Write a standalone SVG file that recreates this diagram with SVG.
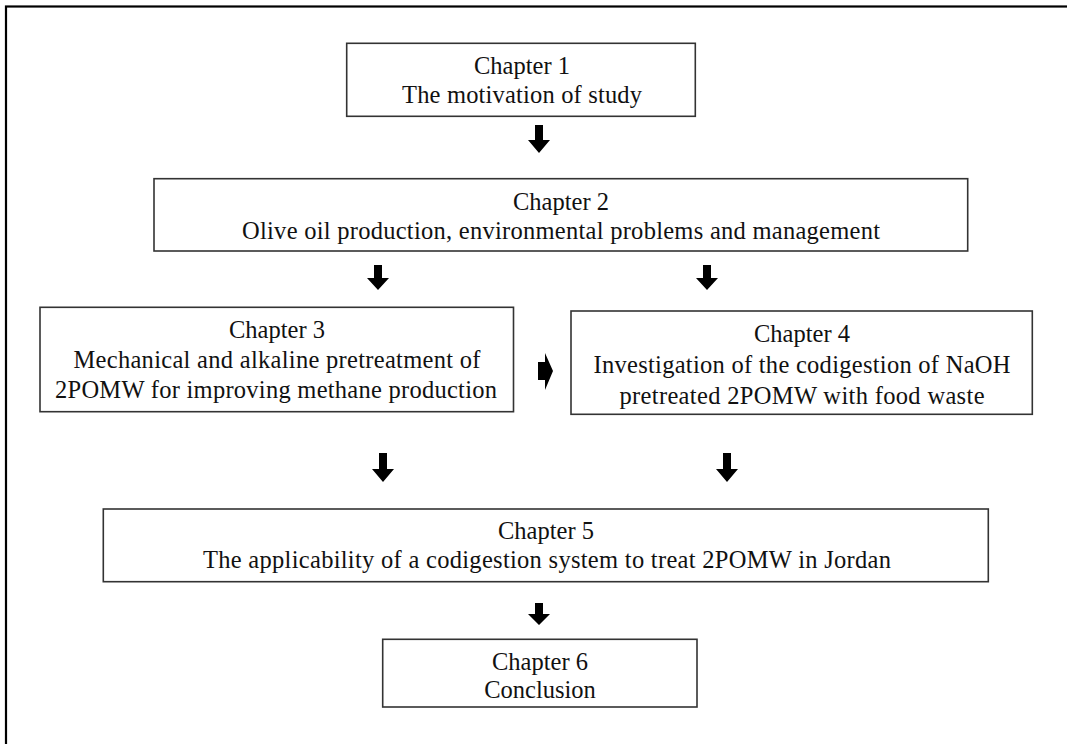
<svg xmlns="http://www.w3.org/2000/svg" width="1067" height="744" viewBox="0 0 1067 744">
<style>
.bx{fill:#fff;stroke:#333;stroke-width:1.6}
.t{font-family:"Liberation Serif","Times New Roman",serif;font-size:24.5px;fill:#111;text-anchor:middle}
.ar{fill:#000;stroke:none}
</style>
<rect x="0" y="0" width="1067" height="744" fill="#fff"/>
<rect x="6" y="6.5" width="1070" height="750" fill="none" stroke="#000" stroke-width="2.2"/>
<g id="connectors">
<path class="ar" d="M535,125 H543 V140 H550 L539,153 L528,140 H535 Z"/>
<path class="ar" d="M374,265 H382 V278 H389 L378,290 L367,278 H374 Z"/>
<path class="ar" d="M703,265 H711 V278 H718 L707,290 L696,278 H703 Z"/>
<path class="ar" d="M379,453 H387 V469 H394 L383,482 L372,469 H379 Z"/>
<path class="ar" d="M723,453 H731 V469 H738 L727,482 L716,469 H723 Z"/>
<path class="ar" d="M535,603 H543 V614 H550 L539,625 L528,614 H535 Z"/>
<path class="ar" d="M538,362 H545 V353 L553,371 L545,390 V380 H538 Z"/>
</g>
<g id="ch1">
<rect class="bx" x="346.7" y="43.3" width="348.6" height="73"/>
<text class="t" x="522" y="74">Chapter 1</text>
<text class="t" x="522" y="103" textLength="240" lengthAdjust="spacing">The motivation of study</text>
</g>
<g id="ch2">
<rect class="bx" x="154" y="178.7" width="813.7" height="72.3"/>
<text class="t" x="561" y="210">Chapter 2</text>
<text class="t" x="561" y="239" textLength="638" lengthAdjust="spacing">Olive oil production, environmental problems and management</text>
</g>
<g id="ch3">
<rect class="bx" x="40" y="307.3" width="473.5" height="104.4"/>
<text class="t" x="277" y="338">Chapter 3</text>
<text class="t" x="277" y="367.5" textLength="407" lengthAdjust="spacing">Mechanical and alkaline pretreatment of</text>
<text class="t" x="276" y="398" textLength="442" lengthAdjust="spacing">2POMW for improving methane production</text>
</g>
<g id="ch4">
<rect class="bx" x="571" y="311" width="461.3" height="103.3"/>
<text class="t" x="802" y="342">Chapter 4</text>
<text class="t" x="802" y="373" textLength="417" lengthAdjust="spacing">Investigation of the codigestion of NaOH</text>
<text class="t" x="802" y="404" textLength="365" lengthAdjust="spacing">pretreated 2POMW with food waste</text>
</g>
<g id="ch5">
<rect class="bx" x="103.3" y="509" width="885" height="72.7"/>
<text class="t" x="546" y="538.5">Chapter 5</text>
<text class="t" x="547" y="568.3" textLength="688" lengthAdjust="spacing">The applicability of a codigestion system to treat 2POMW in Jordan</text>
</g>
<g id="ch6">
<rect class="bx" x="382.7" y="639.3" width="314.3" height="67.7"/>
<text class="t" x="540" y="670">Chapter 6</text>
<text class="t" x="540" y="698.3">Conclusion</text>
</g>
</svg>
